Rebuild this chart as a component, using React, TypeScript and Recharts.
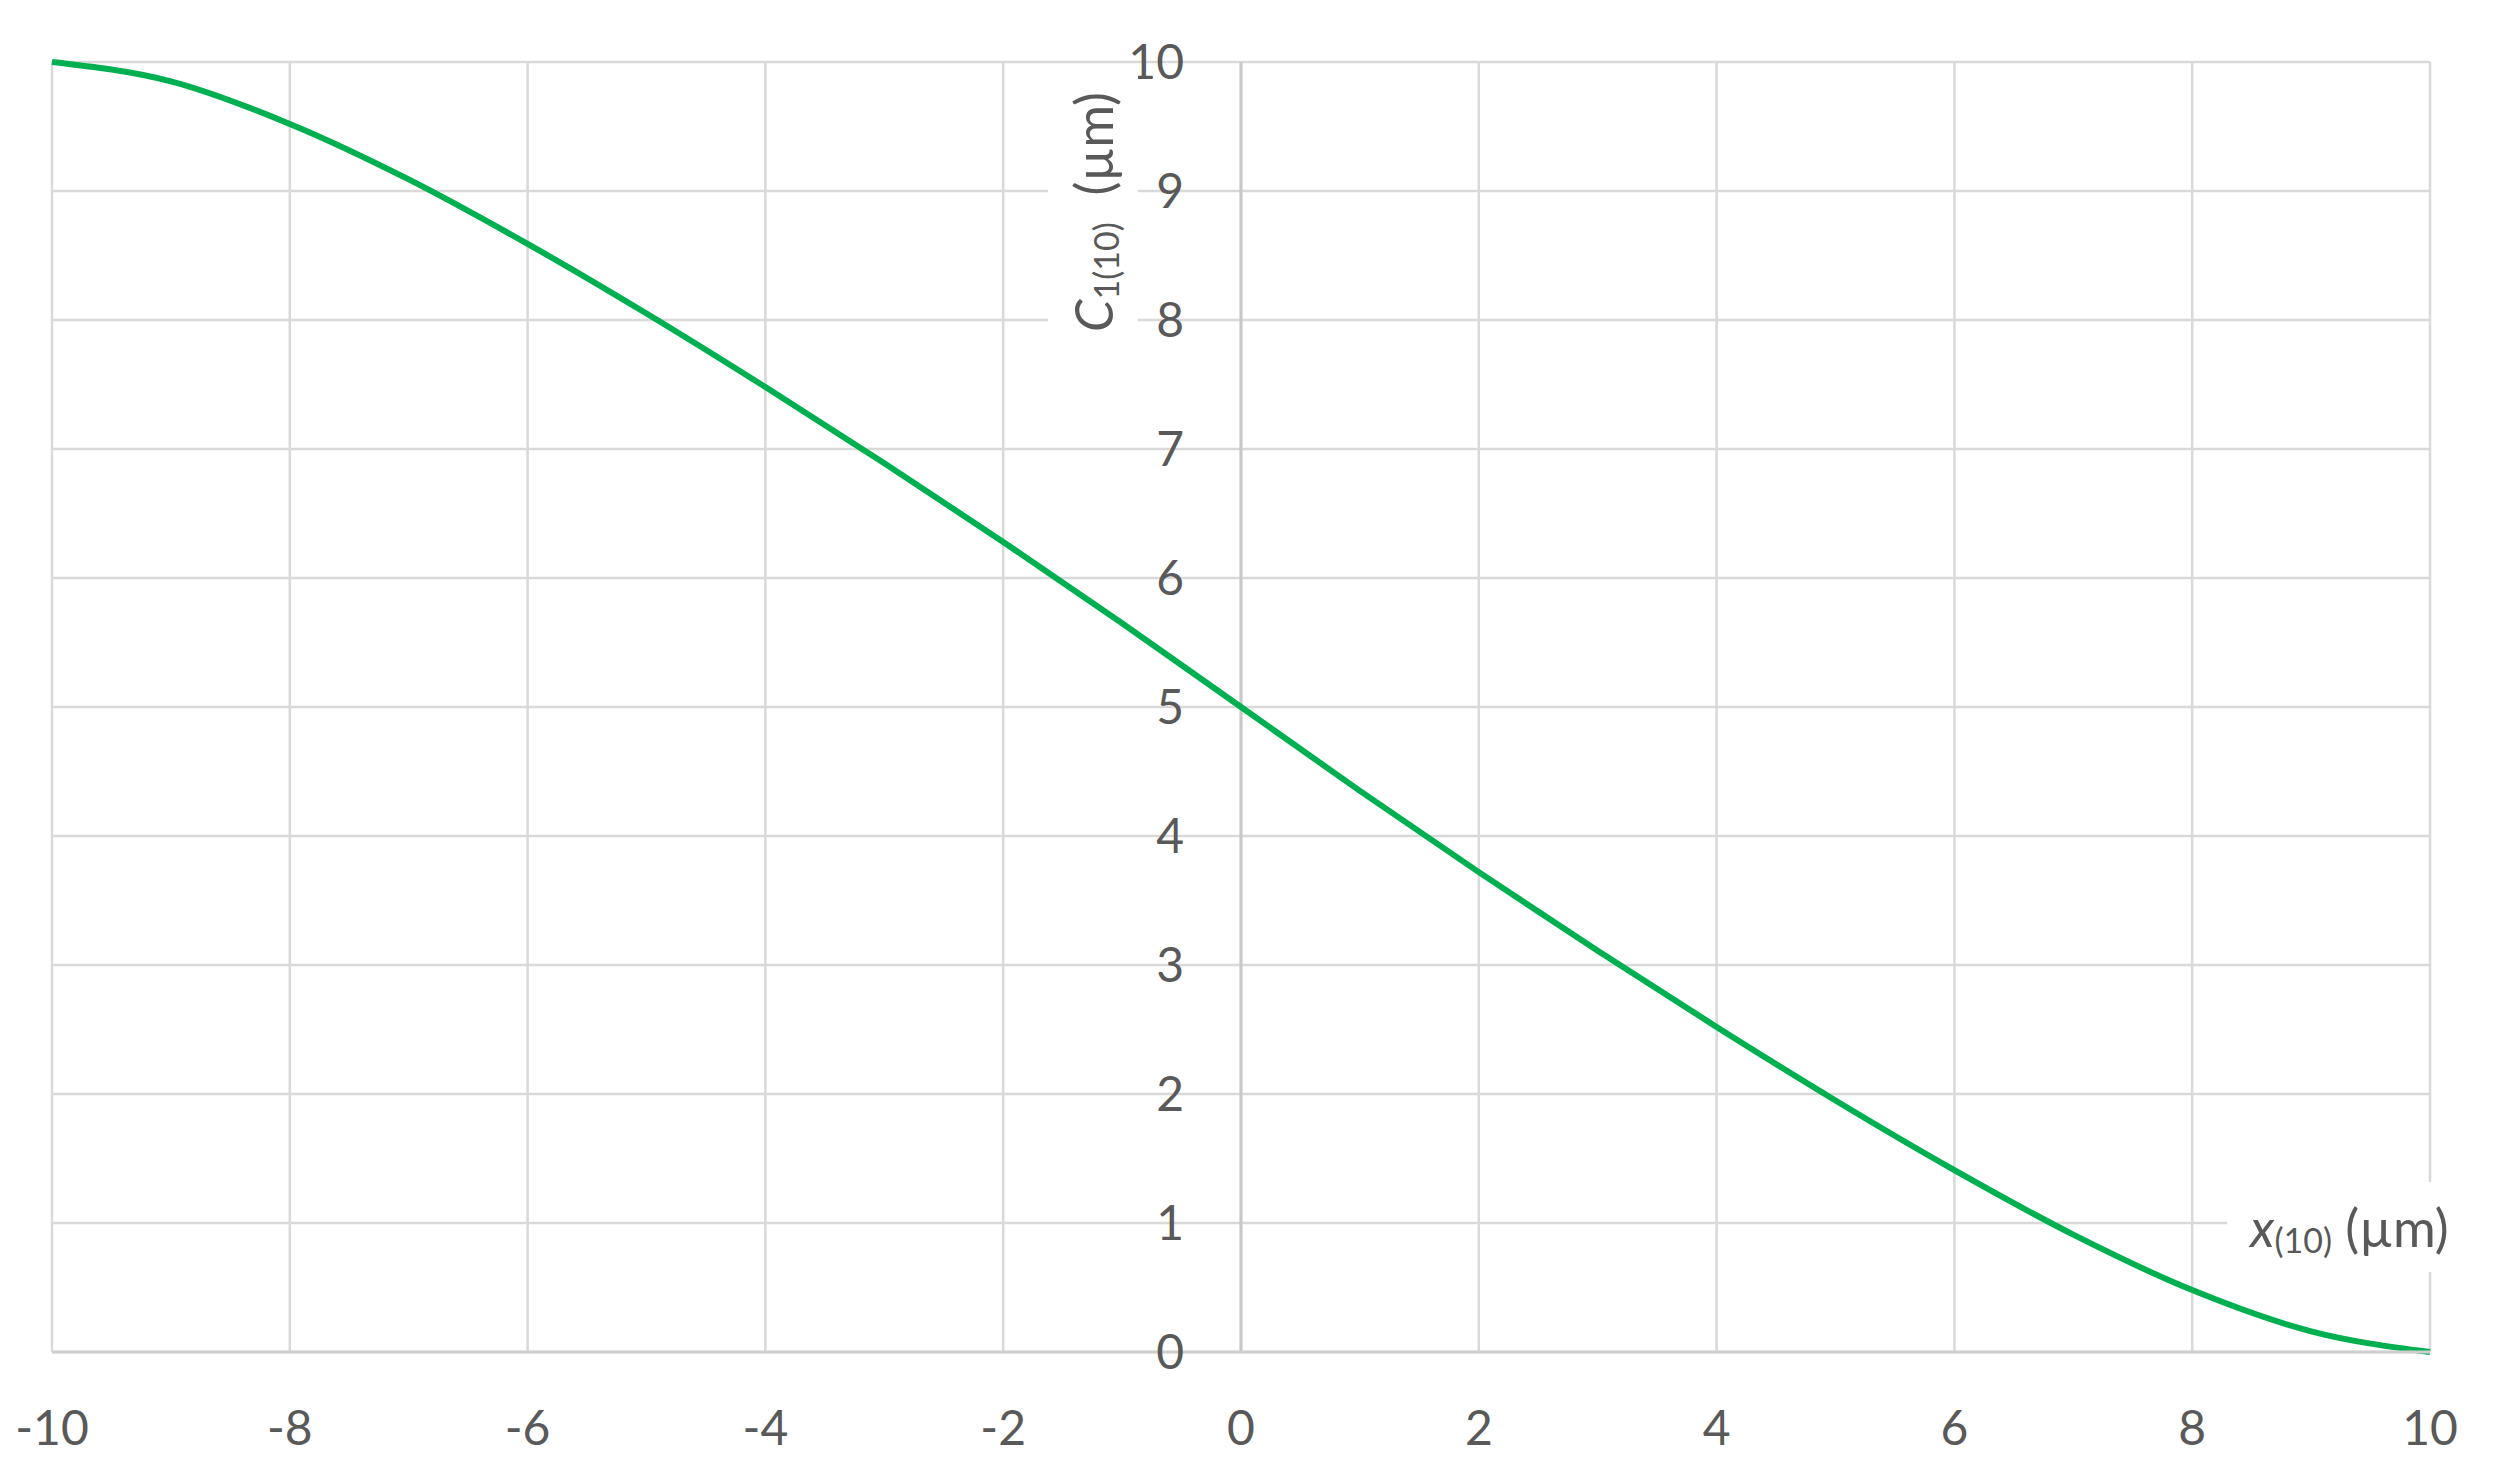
import { LineChart, Line, XAxis, YAxis, CartesianGrid, ReferenceLine } from "recharts";

// x(10) positions (µm) and the C1(10) profile
const xValues = [-10, -9, -8, -7, -6, -5, -4, -3, -2, -1, 0, 1, 2, 3, 4, 5, 6, 7, 8, 9, 10];
const cValues = [10, 9.85, 9.52, 9.09, 8.59, 8.05, 7.48, 6.89, 6.28, 5.65, 5.0, 4.35, 3.72, 3.11, 2.52, 1.95, 1.41, 0.91, 0.48, 0.16, 0];

const xTicks = [-10, -8, -6, -4, -2, 0, 2, 4, 6, 8, 10];
const yTicks = [0, 1, 2, 3, 4, 5, 6, 7, 8, 9, 10];

const W = 2495;
const H = 1477;
const Y_AXIS_W = 52;
const M = { top: 62, right: 65, left: 0, bottom: 0 };
const X_AXIS_H = 125;
const PLOT_BOTTOM = H - X_AXIS_H;
const ZERO_X = Y_AXIS_W + (W - Y_AXIS_W - M.right) / 2;

const FONT = "Lato, 'Open Sans', sans-serif";
const TEXT = "#595959";

const data = xValues.map((x, i) => ({ x, c: cValues[i] }));

// y labels sit beside the x = 0 axis line, not at the left edge
const YTick = (props: any) => (
  <text
    x={ZERO_X - 57}
    y={props.y}
    dy="0.36em"
    textAnchor="end"
    fill={TEXT}
    fontSize={48}
    fontFamily={FONT}
  >
    {props.payload.value}
  </text>
);

const XTick = (props: any) => (
  <text
    x={props.x}
    y={PLOT_BOTTOM + 76}
    dy="0.36em"
    textAnchor="middle"
    fill={TEXT}
    fontSize={48}
    fontFamily={FONT}
  >
    {props.payload.value}
  </text>
);

export default function App() {
  return (
    <div style={{ position: "absolute", left: 0, top: 0, width: W, height: H, background: "#fff" }}>
      <LineChart width={W} height={H} data={data} margin={M}>
        <CartesianGrid stroke="#d9d9d9" strokeWidth={2.5} />
        <XAxis
          dataKey="x"
          type="number"
          domain={[-10, 10]}
          ticks={xTicks}
          height={X_AXIS_H}
          axisLine={{ stroke: "#cfcfcf", strokeWidth: 3 }}
          tickLine={false}
          tick={XTick}
        />
        <YAxis
          type="number"
          domain={[0, 10]}
          ticks={yTicks}
          interval={0}
          width={Y_AXIS_W}
          axisLine={false}
          tickLine={false}
          tick={YTick}
        />
        <ReferenceLine x={0} stroke="#c8c8c8" strokeWidth={3} />
        <Line
          type="monotone"
          dataKey="c"
          stroke="#00b050"
          strokeWidth={6}
          dot={false}
          isAnimationActive={false}
        />
      </LineChart>

      {/* y axis title, rotated, with white box over the grid */}
      <div
        style={{
          position: "absolute",
          left: 1093,
          top: 212,
          width: 275,
          height: 90,
          transform: "translate(-50%, -50%) rotate(-90deg)",
          background: "#fff",
          display: "flex",
          alignItems: "center",
          justifyContent: "center",
          fontFamily: FONT,
          fontSize: 52,
          color: TEXT,
          whiteSpace: "nowrap",
        }}
      >
        <span style={{ fontStyle: "italic" }}>C</span>
        <span style={{ fontSize: 34, position: "relative", top: 12 }}>1(10)</span>
        <span>&nbsp;&nbsp;(µm)</span>
      </div>

      {/* x axis title */}
      <div
        style={{
          position: "absolute",
          left: 2227,
          top: 1182,
          width: 245,
          height: 90,
          background: "#fff",
          display: "flex",
          alignItems: "center",
          justifyContent: "center",
          fontFamily: FONT,
          fontSize: 52,
          color: TEXT,
          whiteSpace: "nowrap",
        }}
      >
        <span style={{ fontStyle: "italic" }}>x</span>
        <span style={{ fontSize: 34, position: "relative", top: 12 }}>(10)</span>
        <span>&nbsp;(µm)</span>
      </div>
    </div>
  );
}
